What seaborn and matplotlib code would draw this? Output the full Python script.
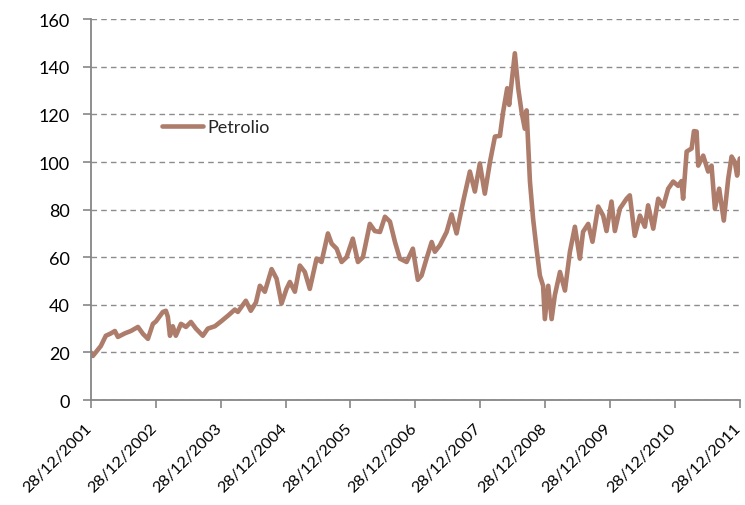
import matplotlib
matplotlib.use("Agg")
import matplotlib.pyplot as plt
import matplotlib.dates as mdates
import matplotlib.transforms as mtransforms
import pandas as pd
import seaborn as sns

# Oil price
dates = [
    "2001-12-28", "2002-01-08", "2002-02-22", "2002-03-22", "2002-04-20", "2002-05-12",
    "2002-05-29", "2002-07-07", "2002-08-10", "2002-09-19", "2002-10-17", "2002-11-14",
    "2002-12-12", "2002-12-29", "2003-02-06", "2003-02-23", "2003-03-06", "2003-03-18",
    "2003-04-03", "2003-04-20", "2003-05-19", "2003-06-16", "2003-07-14", "2003-08-11",
    "2003-09-19", "2003-10-17", "2003-11-26", "2003-12-30", "2004-02-07", "2004-03-17",
    "2004-04-03", "2004-05-18", "2004-06-15", "2004-07-14", "2004-08-05", "2004-09-02",
    "2004-10-10", "2004-11-07", "2004-12-05", "2005-01-02", "2005-01-21", "2005-02-18",
    "2005-03-18", "2005-04-15", "2005-05-13", "2005-06-20", "2005-07-18", "2005-08-23",
    "2005-09-13", "2005-10-11", "2005-11-08", "2005-12-06", "2006-01-10", "2006-02-08",
    "2006-03-08", "2006-04-16", "2006-05-14", "2006-06-12", "2006-07-10", "2006-08-07",
    "2006-09-04", "2006-10-02", "2006-11-09", "2006-12-14", "2007-01-11", "2007-02-01",
    "2007-03-01", "2007-03-30", "2007-04-17", "2007-05-15", "2007-06-22", "2007-07-20",
    "2007-08-17", "2007-09-23", "2007-10-31", "2007-11-28", "2007-12-26", "2008-01-23",
    "2008-02-21", "2008-03-20", "2008-04-17", "2008-05-05", "2008-05-28", "2008-06-08",
    "2008-07-01", "2008-07-10", "2008-07-29", "2008-08-17", "2008-09-04", "2008-09-14",
    "2008-10-03", "2008-10-21", "2008-11-09", "2008-11-28", "2008-12-16", "2008-12-26",
    "2009-01-14", "2009-02-02", "2009-02-20", "2009-03-21", "2009-04-18", "2009-05-16",
    "2009-06-13", "2009-07-11", "2009-07-29", "2009-08-27", "2009-09-20", "2009-10-22",
    "2009-11-19", "2009-12-08", "2010-01-05", "2010-01-24", "2010-02-21", "2010-03-31",
    "2010-04-18", "2010-05-16", "2010-06-14", "2010-07-12", "2010-07-30", "2010-08-28",
    "2010-09-25", "2010-10-23", "2010-11-20", "2010-12-18", "2011-01-15", "2011-02-03",
    "2011-02-12", "2011-03-04", "2011-04-01", "2011-04-14", "2011-04-29", "2011-05-08",
    "2011-06-05", "2011-07-03", "2011-07-22", "2011-08-10", "2011-09-03", "2011-09-29",
    "2011-10-24", "2011-11-12", "2011-11-30", "2011-12-13", "2011-12-28",
]
prices = [
    20.0, 18.5, 22.7, 27.0, 28.0, 29.0,
    26.5, 28.0, 29.0, 30.7, 27.8, 25.7,
    32.0, 33.0, 37.0, 37.5, 35.0, 27.0,
    31.0, 27.0, 32.0, 30.7, 32.8, 30.0,
    27.0, 30.0, 31.0, 33.0, 35.4, 38.0,
    37.0, 41.7, 37.5, 41.0, 48.0, 45.5,
    55.0, 51.0, 40.5, 46.7, 49.6, 45.5,
    56.5, 53.8, 46.7, 59.4, 58.0, 70.0,
    65.7, 63.6, 58.0, 60.0, 67.8, 58.0,
    60.0, 74.0, 71.0, 70.6, 77.0, 75.0,
    66.5, 59.4, 58.0, 63.6, 50.5, 52.3,
    59.4, 66.4, 62.3, 65.0, 70.6, 78.0,
    70.0, 83.4, 96.0, 87.6, 99.4, 86.7,
    100.0, 110.7, 111.0, 121.0, 131.0, 124.0,
    139.4, 145.7, 131.0, 121.0, 114.0, 121.7,
    91.8, 76.0, 63.6, 52.3, 48.0, 34.0,
    48.0, 34.0, 44.0, 53.8, 46.0, 62.3,
    72.8, 59.4, 70.7, 74.0, 66.5, 81.3,
    77.5, 71.0, 83.4, 71.0, 80.4, 84.6,
    86.0, 69.0, 77.5, 72.8, 81.8, 72.0,
    84.6, 81.3, 88.8, 91.8, 90.0, 92.0,
    84.6, 104.4, 105.7, 113.0, 112.8, 98.5,
    102.7, 96.0, 98.5, 80.4, 88.8, 75.4,
    93.0, 102.3, 100.0, 94.3, 101.5,
]
tick_dates = ["%d-12-28" % y for y in range(2001, 2012)]
y_ticks = [0, 20, 40, 60, 80, 100, 120, 140, 160]

df = pd.DataFrame({"Data": pd.to_datetime(dates), "Petrolio": prices})

sns.set_style("white")
plt.rcParams["font.family"] = ["Lato", "DejaVu Sans"]

fig = plt.figure(figsize=(7.45, 5.06), dpi=100)
ax = fig.add_axes([0.122, 0.2075, 0.871, 0.7525])

sns.lineplot(data=df, x="Data", y="Petrolio", color="#ad7c6b", linewidth=3.3,
             label="Petrolio", ax=ax)

ax.set_xlim(pd.Timestamp(tick_dates[0]), pd.Timestamp(tick_dates[-1]))
ax.set_ylim(0, 160)
ax.set_yticks(y_ticks)
ax.set_xticks(pd.to_datetime(tick_dates))
ax.xaxis.set_major_formatter(mdates.DateFormatter("%d/%m/%Y"))
ax.set_xlabel("")
ax.set_ylabel("")

ax.grid(axis="y", color="#8c8c8c", linestyle=(0, (4, 3)), linewidth=1.0)
ax.set_axisbelow(True)
for side in ["top", "right"]:
    ax.spines[side].set_visible(False)
for side in ["left", "bottom"]:
    ax.spines[side].set_color("#868686")
    ax.spines[side].set_linewidth(1.3)

ax.tick_params(axis="both", direction="out", length=6, width=1.2, color="#868686",
               labelcolor="black", left=True, bottom=True)
ax.tick_params(axis="y", pad=9, labelsize=13)
ax.tick_params(axis="x", pad=9, labelsize=11.8)
shift = mtransforms.ScaledTranslation(-6 / 100, 0, fig.dpi_scale_trans)
for lab in ax.get_xticklabels():
    lab.set_rotation(45)
    lab.set_ha("right")
    lab.set_va("top")
    lab.set_rotation_mode("anchor")
    lab.set_transform(lab.get_transform() + shift)

leg = ax.legend(loc="center left", bbox_to_anchor=(0.084, 0.717), frameon=False,
                fontsize=13, handlelength=2.3, handletextpad=0.25)

fig.savefig("out.png", dpi=100)
